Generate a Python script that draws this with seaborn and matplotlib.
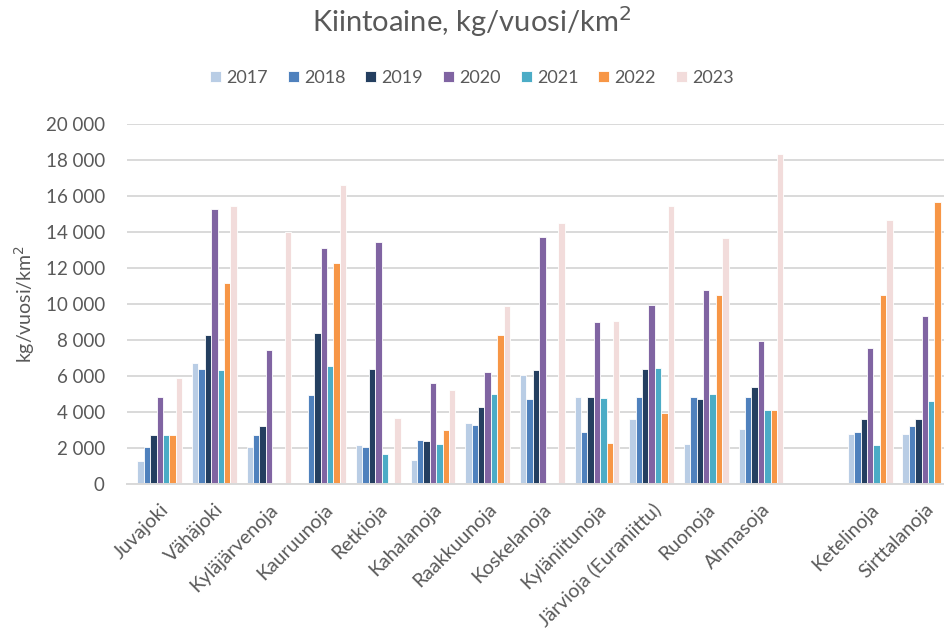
import numpy as np
import pandas as pd
import matplotlib
matplotlib.use("Agg")
import matplotlib.pyplot as plt
import seaborn as sns
from matplotlib.ticker import FuncFormatter

categories = ["Juvajoki", "Vähäjoki", "Kyläjärvenoja", "Kauruunoja", "Retkioja",
              "Kahalanoja", "Raakkuunoja", "Koskelanoja", "Kyläniitunoja",
              "Järvioja (Euraniittu)", "Ruonoja", "Ahmasoja", " ", "Ketelinoja",
              "Sirttalanoja"]
years = ["2017", "2018", "2019", "2020", "2021", "2022", "2023"]
nan = np.nan
v2017 = [1300, 6700, 2050, nan, 2170, 1340, 3410, 6050, 4860, 3600, 2230, 3040, nan, 2780, 2780]
v2018 = [2050, 6380, 2700, 4950, 2050, 2470, 3300, 4700, 2910, 4860, 4810, 4860, nan, 2910, 3230]
v2019 = [2750, 8270, 3200, 8400, 6380, 2410, 4300, 6330, 4810, 6380, 4700, 5380, nan, 3600, 3600]
v2020 = [4820, 15270, 7450, 13100, 13450, 5620, 6200, 13700, 9000, 9950, 10770, 7950, nan, 7570, 9320]
v2021 = [2700, 6320, nan, 6570, 1680, 2230, 5000, nan, 4760, 6450, 5000, 4120, nan, 2170, 4620]
v2022 = [2700, 11150, nan, 12270, nan, 2980, 8270, nan, 2300, 3950, 10520, 4120, nan, 10520, 15680]
v2023 = [5900, 15450, 14000, 16600, 3680, 5250, 9900, 14520, 9060, 15450, 13650, 18330, nan, 14650, nan]

colors = ["#B9CDE5", "#4F81BD", "#243F60", "#8064A2", "#4BACC6", "#F79646", "#F2DCDB"]

series = [v2017, v2018, v2019, v2020, v2021, v2022, v2023]
rows = []
for y, vals in zip(years, series):
    for c, v in zip(categories, vals):
        rows.append({"Alue": c, "Vuosi": y, "Arvo": v})
df = pd.DataFrame(rows)

sns.set_theme(style="white")
plt.rcParams["font.family"] = ["Lato", "DejaVu Sans"]
gray = "#595959"

fig = plt.figure(figsize=(9.44, 6.32), dpi=100)
ax = fig.add_axes([127 / 944, 1 - 484 / 632, 1 - 127 / 944, 360 / 632])

sns.barplot(data=df, x="Alue", y="Arvo", hue="Vuosi", order=categories,
            hue_order=years, palette=colors, saturation=1, width=0.82, errorbar=None,
            edgecolor="white", linewidth=0.6, ax=ax, legend=True)

ax.set_ylim(0, 20000)
ax.set_xlim(-0.6, 14.35)
ax.set_yticks(np.arange(0, 20001, 2000))
ax.yaxis.set_major_formatter(FuncFormatter(lambda v, p: f"{int(v):,}".replace(",", " ")))
ax.grid(axis="y", color="#D9D9D9", linewidth=1.4)
ax.set_axisbelow(True)
for s in ["top", "right", "left"]:
    ax.spines[s].set_visible(False)
ax.spines["bottom"].set_color("#D9D9D9")
ax.spines["bottom"].set_linewidth(1.4)
ax.tick_params(axis="both", length=0, colors=gray)
ax.tick_params(axis="y", pad=16, labelsize=13.5)
ax.tick_params(axis="x", pad=12, labelsize=14)
ax.set_xlabel("")
ax.set_ylabel("kg/vuosi/km$^2$", color=gray, fontsize=14, labelpad=6)
plt.setp(ax.get_xticklabels(), rotation=45, ha="right", rotation_mode="anchor")

handles, labels = ax.get_legend_handles_labels()
ax.legend(handles, labels, loc="center", bbox_to_anchor=(0.5 - 0.0, 1 - 78 / 632),
          bbox_transform=fig.transFigure, ncol=7, frameon=False, fontsize=13,
          handlelength=0.6, handleheight=0.6, handletextpad=0.3, columnspacing=1.1,
          labelcolor=gray)

fig.text(0.5, 1 - 22 / 632, "Kiintoaine, kg/vuosi/km$^2$", ha="center", va="center",
         fontsize=21, color=gray)

fig.savefig("out.png", dpi=100)
